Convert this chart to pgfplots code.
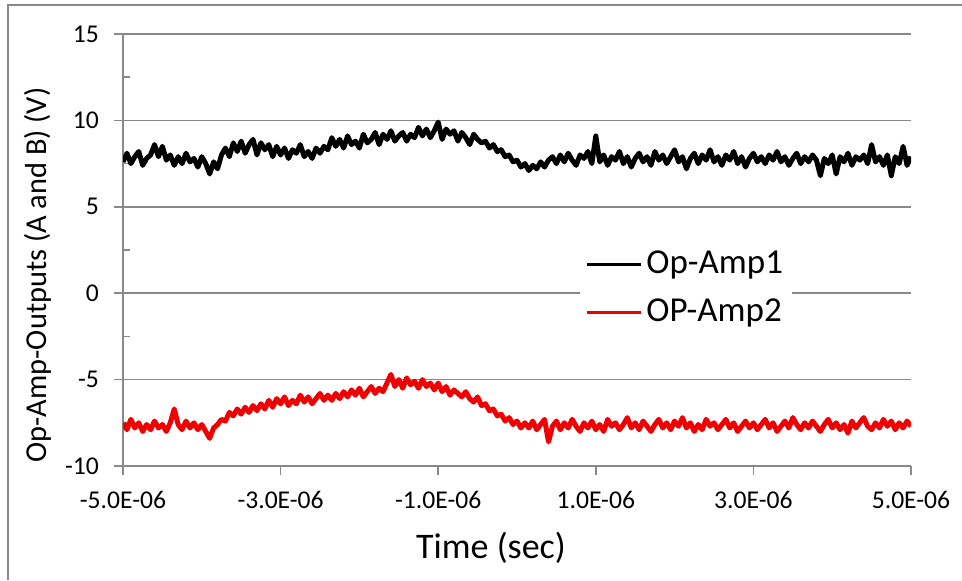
\documentclass[border=0pt]{standalone}
\usepackage{pgfplots}
\pgfplotsset{compat=1.18}
\usepackage{fontspec}
\setmainfont{Carlito}
\definecolor{gridgray}{RGB}{137,137,137}
\definecolor{tracered}{RGB}{240,0,0}
\begin{document}
\begin{tikzpicture}
\path[use as bounding box] (0,0) rectangle (481pt,290pt);
\draw[gridgray, line width=0.75pt] (4pt,0pt) -- (4pt,287.5pt) -- (481pt,287.5pt);
\begin{axis}[
  at={(61.5pt,57pt)}, anchor=south west,
  scale only axis, width=394pt, height=216pt,
  xmin=-5, xmax=5, ymin=-10, ymax=15,
  axis x line*=bottom, axis y line*=left,
  axis line style={draw=gridgray, line width=0.75pt, -},
  xtick={-5,-3,-1,1,3,5},
  xticklabels={-5.0E-06,-3.0E-06,-1.0E-06,1.0E-06,3.0E-06,5.0E-06},
  ytick={-10,-5,0,5,10,15},
  yticklabels={-10,-5,0,5,10,15},
  extra y ticks={-7.5,-2.5,2.5,7.5,12.5},
  extra y tick labels={},
  extra y tick style={tick align=inside, major tick length=3.5pt, ymajorgrids=false},
  tick align=outside, major tick length=4.5pt,
  tick style={draw=gridgray, line width=0.75pt},
  ymajorgrids, grid style={draw=gridgray, line width=0.75pt},
  tick label style={font=\fontsize{12.8}{15}\selectfont},
  xticklabel style={yshift=-4.5pt},
  yticklabel style={xshift=-4pt},
  /pgf/number format/assume math mode=true,
  xlabel={Time (sec)},
  xlabel style={at={(rel axis cs:0.467,-0.19)}, anchor=center, font=\fontsize{18}{21}\selectfont},
  ylabel={Op-Amp-Outputs (A and B) (V)},
  ylabel style={at={(rel axis cs:-0.108,0.442)}, anchor=center, rotate=0, font=\fontsize{15.2}{18}\selectfont},
  legend style={at={(rel axis cs:0.580,0.41)}, anchor=west, draw=none, fill=white,
    inner xsep=2.5pt, inner ysep=1pt, row sep=3pt,
    nodes={inner sep=2pt, text height=13pt, text depth=4pt},
    font=\fontsize{17.5}{21}\selectfont},
  legend cell align=left,
  legend image code/.code={\draw[#1, line width=1.5pt] (0pt,0pt) -- (27pt,0pt);},
]
\addplot[black, line width=2.5pt, line join=round] coordinates {
(-5.00,7.6) (-4.95,8.1) (-4.90,7.5) (-4.85,7.9) (-4.80,8.2) (-4.75,7.4) (-4.70,7.8) (-4.65,8.0)
(-4.60,8.6) (-4.55,7.9) (-4.50,8.5) (-4.45,7.7)
(-4.40,8.0) (-4.35,7.4) (-4.30,7.9) (-4.25,7.5) (-4.20,8.1) (-4.15,7.6) (-4.10,7.8) (-4.05,7.3) (-4.00,7.9) (-3.95,7.5)
(-3.90,6.9) (-3.85,7.6) (-3.80,7.2) (-3.75,8.0)
(-3.70,8.4) (-3.65,7.9) (-3.60,8.7) (-3.55,8.2)
(-3.50,8.8) (-3.45,8.1) (-3.40,8.6) (-3.35,8.9) (-3.30,8.0) (-3.25,8.7) (-3.20,8.3) (-3.15,8.6) (-3.10,7.9) (-3.05,8.5)
(-3.00,8.0) (-2.95,8.4) (-2.90,7.8) (-2.85,8.3) (-2.80,8.1) (-2.75,8.6) (-2.70,7.9) (-2.65,8.2) (-2.60,7.8) (-2.55,8.4) (-2.50,8.1) (-2.45,8.5)
(-2.40,8.3) (-2.35,9.0) (-2.30,8.5) (-2.25,8.9) (-2.20,8.4) (-2.15,9.1) (-2.10,8.6) (-2.05,8.8) (-2.00,8.4) (-1.95,9.2) (-1.90,8.7) (-1.85,8.9)
(-1.80,9.3) (-1.75,8.6) (-1.70,9.2) (-1.65,8.9) (-1.60,9.4) (-1.55,8.8) (-1.50,9.1) (-1.45,9.3) (-1.40,8.8) (-1.35,9.2) (-1.30,9.0)
(-1.25,9.6) (-1.20,9.1) (-1.15,9.5) (-1.10,9.0) (-1.05,9.4) (-1.00,9.9) (-0.95,8.9) (-0.90,9.5) (-0.85,9.2)
(-0.80,9.4) (-0.75,8.8) (-0.70,9.3) (-0.65,9.0) (-0.60,8.6) (-0.55,9.2) (-0.50,8.9) (-0.45,8.7)
(-0.40,8.8) (-0.35,8.4) (-0.30,8.6) (-0.25,8.2) (-0.20,8.3) (-0.15,7.9) (-0.10,8.0) (-0.05,7.6) (0.00,7.7) (0.05,7.3) (0.10,7.5) (0.15,7.1)
(0.20,7.4) (0.25,7.2) (0.30,7.6) (0.35,7.3) (0.40,7.7)
(0.45,7.9) (0.50,7.5) (0.55,8.0) (0.60,7.6) (0.65,8.1) (0.70,7.7) (0.75,7.4) (0.80,8.0) (0.85,7.8) (0.90,8.2) (0.95,7.5)
(1.00,9.1) (1.05,7.6) (1.10,8.0) (1.15,7.4) (1.20,7.9) (1.25,7.7) (1.30,8.2) (1.35,7.5) (1.40,7.9) (1.45,7.3) (1.50,7.8) (1.55,8.1) (1.60,7.6) (1.65,7.9) (1.70,7.4) (1.75,8.2) (1.80,7.7) (1.85,8.0) (1.90,7.5) (1.95,7.9)
(2.00,8.3) (2.05,7.6) (2.10,7.9) (2.15,7.2) (2.20,7.8) (2.25,8.1) (2.30,7.5) (2.35,8.0) (2.40,7.7) (2.45,8.3) (2.50,7.6) (2.55,7.9) (2.60,7.4) (2.65,8.0) (2.70,7.7) (2.75,8.2) (2.80,7.5) (2.85,7.9) (2.90,7.3) (2.95,7.8)
(3.00,8.1) (3.05,7.6) (3.10,7.9) (3.15,7.5) (3.20,8.0) (3.25,7.7) (3.30,8.2) (3.35,7.6) (3.40,7.9) (3.45,7.4) (3.50,7.8) (3.55,8.1) (3.60,7.5) (3.65,7.9) (3.70,7.6) (3.75,8.0) (3.80,7.7) (3.85,6.8) (3.90,7.8) (3.95,7.5)
(4.00,8.0) (4.05,6.9) (4.10,7.9) (4.15,7.6) (4.20,8.1) (4.25,7.4) (4.30,7.9) (4.35,7.7) (4.40,8.0) (4.45,7.5) (4.50,8.6) (4.55,7.6) (4.60,7.9) (4.65,7.4) (4.70,8.0) (4.75,6.8) (4.80,7.9) (4.85,7.5) (4.90,8.5) (4.95,7.4) (5.00,7.9)
};
\addlegendentry{Op-Amp1}
\addplot[tracered, line width=2.5pt, line join=round] coordinates {
(-5.00,-7.5) (-4.95,-7.9) (-4.90,-7.3) (-4.85,-7.8) (-4.80,-7.5) (-4.75,-8.0) (-4.70,-7.6) (-4.65,-7.9) (-4.60,-7.4) (-4.55,-7.8) (-4.50,-7.6) (-4.45,-8.0) (-4.40,-7.5)
(-4.35,-6.7) (-4.30,-7.6) (-4.25,-7.9) (-4.20,-7.4) (-4.15,-7.8) (-4.10,-7.5) (-4.05,-7.9) (-4.00,-7.6) (-3.95,-8.0) (-3.90,-8.4) (-3.85,-7.8) (-3.80,-7.6) (-3.75,-7.3)
(-3.70,-7.4) (-3.65,-6.9) (-3.60,-7.1) (-3.55,-6.7) (-3.50,-7.0) (-3.45,-6.6) (-3.40,-6.9) (-3.35,-6.5) (-3.30,-6.8) (-3.25,-6.4) (-3.20,-6.7)
(-3.15,-6.2) (-3.10,-6.6) (-3.05,-6.1) (-3.00,-6.4) (-2.95,-6.0) (-2.90,-6.5) (-2.85,-6.2) (-2.80,-6.4) (-2.75,-5.9) (-2.70,-6.3) (-2.65,-6.0) (-2.60,-6.4) (-2.55,-6.1) (-2.50,-5.8) (-2.45,-6.2) (-2.40,-5.9)
(-2.35,-6.2) (-2.30,-5.8) (-2.25,-6.1) (-2.20,-5.7) (-2.15,-6.0) (-2.10,-5.6) (-2.05,-5.9) (-2.00,-5.5) (-1.95,-6.0) (-1.90,-5.7) (-1.85,-5.4) (-1.80,-5.8) (-1.75,-5.5) (-1.70,-5.7)
(-1.65,-5.2) (-1.60,-4.7) (-1.55,-5.4) (-1.50,-5.0) (-1.45,-5.5) (-1.40,-4.9) (-1.35,-5.3) (-1.30,-5.1) (-1.25,-5.5) (-1.20,-5.0) (-1.15,-5.4) (-1.10,-5.2)
(-1.05,-5.6) (-1.00,-5.2) (-0.95,-5.7) (-0.90,-5.4) (-0.85,-5.9) (-0.80,-5.6) (-0.75,-5.8) (-0.70,-6.0) (-0.65,-5.7) (-0.60,-6.1) (-0.55,-6.3) (-0.50,-6.0) (-0.45,-6.5)
(-0.40,-6.4) (-0.35,-6.8) (-0.30,-6.7) (-0.25,-7.1) (-0.20,-7.0) (-0.15,-7.4) (-0.10,-7.2) (-0.05,-7.6) (0.00,-7.4) (0.05,-7.8)
(0.10,-7.5) (0.15,-7.8) (0.20,-7.4) (0.25,-7.9) (0.30,-7.6) (0.35,-7.3) (0.40,-8.6) (0.45,-7.7) (0.50,-7.4) (0.55,-7.9) (0.60,-7.5) (0.65,-7.8) (0.70,-7.3) (0.75,-7.7) (0.80,-8.0) (0.85,-7.5) (0.90,-7.8) (0.95,-7.4)
(1.00,-7.9) (1.05,-7.6) (1.10,-8.0) (1.15,-7.3) (1.20,-7.7) (1.25,-7.5) (1.30,-7.9) (1.35,-7.6) (1.40,-7.2) (1.45,-7.8) (1.50,-7.5) (1.55,-7.9) (1.60,-7.4) (1.65,-7.7) (1.70,-8.0) (1.75,-7.6) (1.80,-7.3) (1.85,-7.8) (1.90,-7.5) (1.95,-7.9)
(2.00,-7.4) (2.05,-7.7) (2.10,-7.2) (2.15,-7.8) (2.20,-7.5) (2.25,-8.0) (2.30,-7.6) (2.35,-7.9) (2.40,-7.3) (2.45,-7.7) (2.50,-7.5) (2.55,-7.9) (2.60,-7.6) (2.65,-7.3) (2.70,-7.8) (2.75,-7.5) (2.80,-8.0) (2.85,-7.7) (2.90,-7.4) (2.95,-7.8)
(3.00,-7.5) (3.05,-7.9) (3.10,-7.6) (3.15,-7.3) (3.20,-7.8) (3.25,-7.5) (3.30,-8.0) (3.35,-7.7) (3.40,-7.4) (3.45,-7.8) (3.50,-7.2) (3.55,-7.6) (3.60,-7.9) (3.65,-7.5) (3.70,-7.8) (3.75,-7.4) (3.80,-7.7) (3.85,-8.0) (3.90,-7.6) (3.95,-7.3)
(4.00,-7.8) (4.05,-7.5) (4.10,-7.9) (4.15,-7.6) (4.20,-8.1) (4.25,-7.4) (4.30,-7.8) (4.35,-7.5) (4.40,-7.2) (4.45,-7.7) (4.50,-7.9) (4.55,-7.5) (4.60,-7.8) (4.65,-7.3) (4.70,-7.7) (4.75,-7.4) (4.80,-7.9) (4.85,-7.5) (4.90,-7.8) (4.95,-7.4) (5.00,-7.7)
};
\addlegendentry{OP-Amp2}
\end{axis}
\end{tikzpicture}
\end{document}
